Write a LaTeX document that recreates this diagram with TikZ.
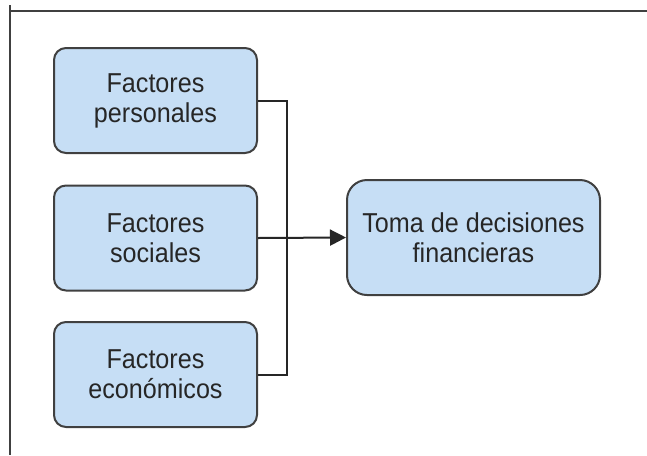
\documentclass[tikz,border=0pt]{standalone}
\usepackage{fontspec}
\setmainfont[FakeStretch=0.92]{Liberation Sans}
\usetikzlibrary{arrows.meta}
\definecolor{boxfill}{RGB}{198,222,245}
\definecolor{boxline}{RGB}{64,64,64}
\begin{document}
\begin{tikzpicture}[x=0.75pt,y=-0.75pt,
  factor/.style={draw=boxline,line width=1.5pt,fill=boxfill,rounded corners=9pt,
    minimum width=203*0.75pt,minimum height=105*0.75pt,align=center,
    font=\fontsize{20.5}{22.5}\selectfont,text=black!85},
  target/.style={factor,minimum width=253*0.75pt,minimum height=115*0.75pt,rounded corners=15pt},
  conn/.style={line width=1.5pt,draw=black!85}]
\useasboundingbox (0,0) rectangle (647,455);
\fill[white] (0,0) rectangle (647,455);
\draw[line width=1.1pt,black!75] (10,11) -- (647,11);
\draw[line width=1.1pt,black!75] (10,5) -- (10,455);
\node[factor] (p) at (155.5,100.5) {Factores\\personales};
\node[factor] (s) at (155.5,238) {Factores\\sociales};
\node[factor] (e) at (155.5,374.5) {Factores\\económicos};
\node[target] (t) at (473.5,237.5) {Toma de decisiones\\financieras};
\coordinate (j) at (287,238);
\draw[conn] (p.east) -| (j);
\draw[conn] (e.east) -| (j);
\draw[conn,-{Triangle[length=12pt,width=12pt]}] (s.east) -- (t.west);
\end{tikzpicture}
\end{document}
